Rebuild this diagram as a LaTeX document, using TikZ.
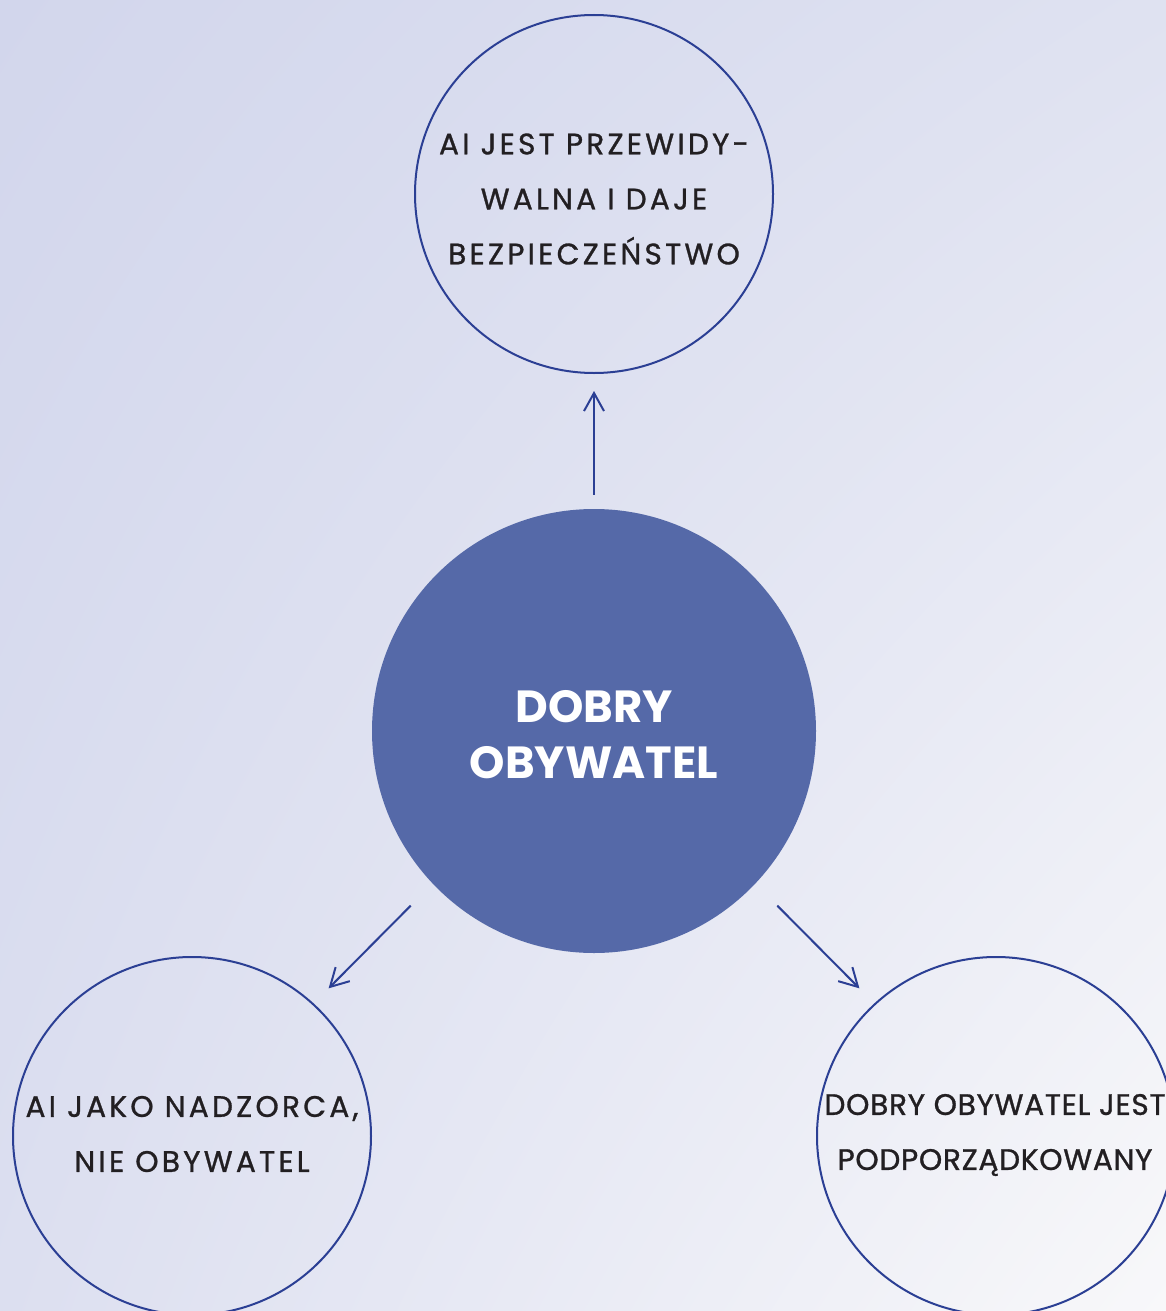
\documentclass[tikz,border=0pt]{standalone}
\usepackage{fontspec}
\setmainfont{Poppins}
\newfontfamily\ringfont[LetterSpace=11,FakeBold=1]{Poppins}
\newfontfamily\ringtight[LetterSpace=2.5,FakeBold=1]{Poppins}
\usetikzlibrary{arrows.meta,shadings}

\definecolor{ringblue}{HTML}{2B3F94}
\definecolor{hubblue}{HTML}{5569A8}
\definecolor{inkdark}{HTML}{221F22}
\definecolor{bgtl}{HTML}{D2D6EC}
\definecolor{bgtr}{HTML}{DFE2F1}
\definecolor{bgbl}{HTML}{DCDFF0}
\definecolor{bgbr}{HTML}{F8F8FA}

\begin{document}
\begin{tikzpicture}[x=0.5pt,y=-0.5pt,
    ring/.style={circle,draw=ringblue,line width=1pt,minimum size=179pt,inner sep=0pt},
    ringtext/.style={inner sep=0pt,align=center,text=inkdark,
        font=\ringfont\fontsize{14.8}{27.5}\selectfont},
    hub/.style={circle,fill=hubblue,minimum size=222pt,inner sep=0pt,
        align=center,text=white,font=\bfseries\fontsize{22.5}{28}\selectfont},
    link/.style={draw=ringblue,line width=1pt,-{Straight Barb[length=9pt,width=10pt]}}]
    % page and background
    \clip (0,0) rectangle (1166,1311);
    \shade[upper left=bgtl,upper right=bgtr,lower left=bgbl,lower right=bgbr]
        (0,0) rectangle (1166,1311);

    \node[hub] (hub) at (594,731) {\strut DOBRY\\OBYWATEL};

    \node[ring] (top) at (594,194) {};
    \node[ringtext] (toptext) at (594,199) {AI JEST PRZEWIDY-\\WALNA I DAJE\\BEZPIECZEŃSTWO};
    \node[ring] (left) at (192,1136) {};
    \node[ringtext] (lefttext) at (192,1134) {AI JAKO NADZORCA,\\NIE OBYWATEL};
    \node[ring] (right) at (996,1136) {};
    \node[ringtext,font=\ringtight\fontsize{14.8}{27.5}\selectfont] (righttext) at (995,1135)
        {DOBRY OBYWATEL JEST\\PODPORZĄDKOWANY};

    % arrows out of the hub
    \draw[link,shorten <=7pt,shorten >=8.5pt] (hub) -- (top);
    \draw[link,shorten <=126.5pt,shorten >=100.5pt]
        ([shift={(-5,-5)}]hub.center) -- ([shift={(-5,-5)}]left.center);
    \draw[link,shorten <=126.5pt,shorten >=100.5pt]
        ([shift={(5,-5)}]hub.center) -- ([shift={(5,-5)}]right.center);
\end{tikzpicture}
\end{document}
